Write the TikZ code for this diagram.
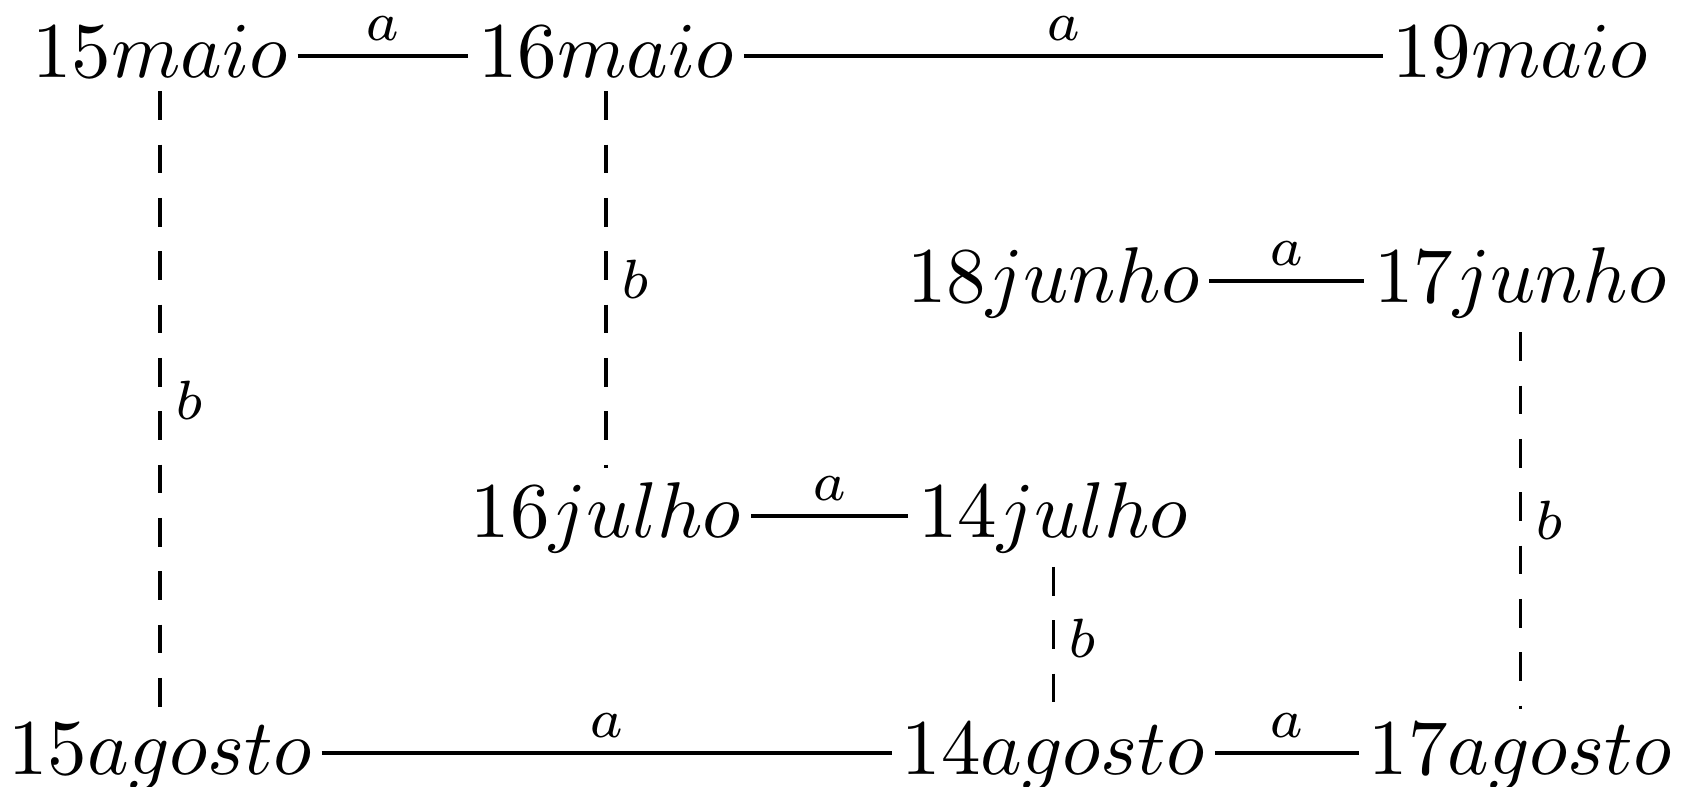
\documentclass[tikz,border=0pt]{standalone}
\usepackage{amsmath,amssymb}
\usepackage{tikz}
\usetikzlibrary{positioning}

\begin{document}
\begin{tikzpicture}[x=1pt, y=1pt, line width=0.45pt,
  day/.style={anchor=base, inner xsep=1.25pt, inner ysep=1.8pt, outer sep=0pt},
  aedge/.style={line width=0.5pt},
  bedge/.style={line width=0.4pt, dash pattern=on 3.63pt off 3.12pt},
  lab/.style={font=\scriptsize, inner sep=1.7pt}]
  \useasboundingbox (0,0) rectangle (213.5,-99.5);
  \node[day] (m15) at (20.25,-9.75) {$15maio$};
  \node[day] (m16) at (76.7,-9.75) {$16maio$};
  \node[day] (m19) at (192.4,-9.75) {$19maio$};
  \node[day] (jn18) at (133.3,-38.3) {$18junho$};
  \node[day] (jn17) at (192.4,-38.3) {$17junho$};
  \node[day] (jl16) at (76.7,-68) {$16julho$};
  \node[day] (jl14) at (133.3,-68) {$14julho$};
  \node[day] (ag15) at (20.25,-98) {$15agosto$};
  \node[day] (ag14) at (133.3,-98) {$14agosto$};
  \node[day] (ag17) at (192.4,-98) {$17agosto$};
  \draw[aedge] ([yshift=2.7pt]m15.base east) -- node[lab, above]{$a$} ([yshift=2.7pt]m16.base west);
  \draw[aedge] ([yshift=2.7pt]m16.base east) -- node[lab, above]{$a$} ([yshift=2.7pt]m19.base west);
  \draw[aedge] ([yshift=2.7pt]jn18.base east) -- node[lab, above]{$a$} ([yshift=2.7pt]jn17.base west);
  \draw[aedge] ([yshift=2.7pt]jl16.base east) -- node[lab, above]{$a$} ([yshift=2.7pt]jl14.base west);
  \draw[aedge] ([yshift=2.7pt]ag15.base east) -- node[lab, above]{$a$} ([yshift=2.7pt]ag14.base west);
  \draw[aedge] ([yshift=2.7pt]ag14.base east) -- node[lab, above]{$a$} ([yshift=2.7pt]ag17.base west);
  \draw[bedge] (m15.south) -- node[lab, right]{$b$} (ag15.north);
  \draw[bedge] (m16.south) -- node[lab, right]{$b$} (jl16.north);
  \draw[bedge] (jn17.south) -- node[lab, right]{$b$} (ag17.north);
  \draw[bedge] (jl14.south) -- node[lab, right]{$b$} (ag14.north);
\end{tikzpicture}
\end{document}
